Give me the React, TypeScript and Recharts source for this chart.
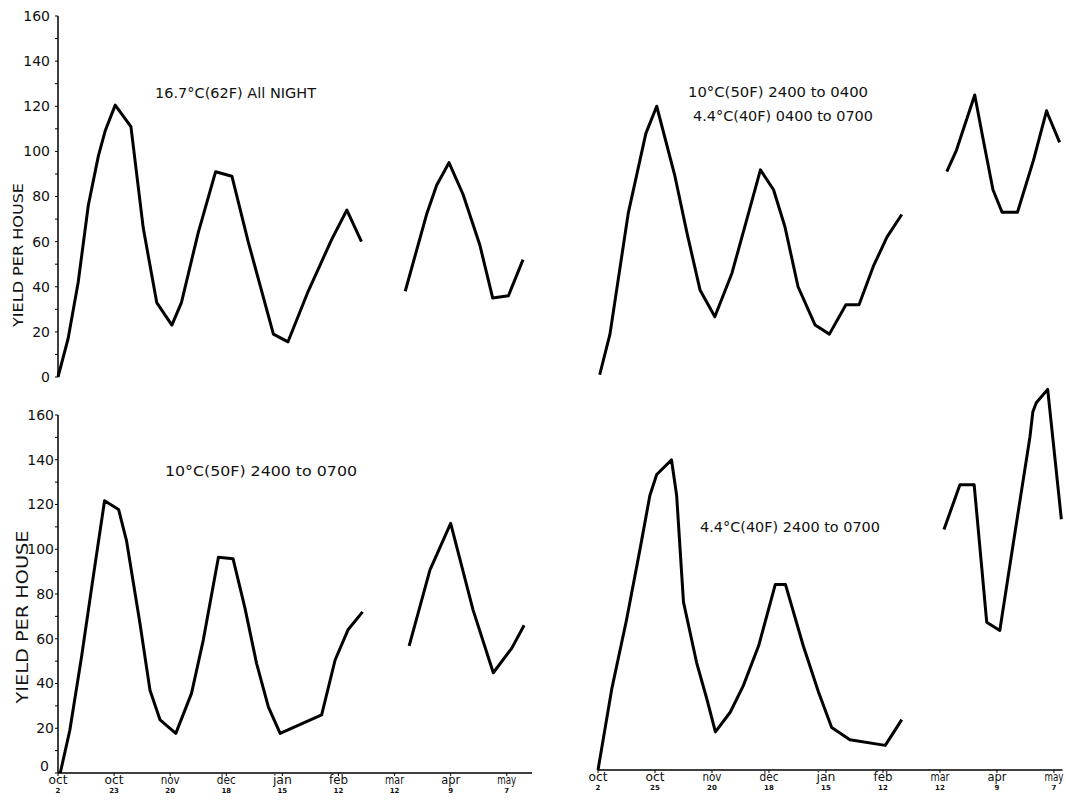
import React from 'react';
import { LineChart, Line, XAxis, YAxis } from 'recharts';

// Axis labels
const monthLabels = ['oct', 'oct', 'nov', 'dec', 'jan', 'feb', 'mar', 'apr', 'may'];
const dayLabelsLeft = ['2', '23', '20', '18', '15', '12', '12', '9', '7'];
const dayLabelsRight = ['2', '25', '20', '18', '15', '12', '12', '9', '7'];
const xTicks = [0, 1, 2, 3, 4, 5, 6, 7, 8];
const yTicks = [0, 10, 20, 30, 40, 50, 60, 70, 80, 90, 100, 110, 120, 130, 140, 150, 160];

// Panel titles
const titleTopLeft = '16.7°C(62F) All NIGHT';
const titleTopRight1 = '10°C(50F)  2400 to 0400';
const titleTopRight2 = '4.4°C(40F) 0400 to 0700';
const titleBottomLeft = '10°C(50F)  2400 to 0700';
const titleBottomRight = '4.4°C(40F) 2400 to 0700';
const yTitle = 'YIELD PER HOUSE';

// x positions are in units of the date ticks (0 = oct 2 ... 8 = may 7)
// Top-left: 16.7°C all night
const tlSeg1X = [0, 0.18, 0.36, 0.54, 0.72, 0.84, 1.02, 1.3, 1.52, 1.76, 2.03, 2.2, 2.5, 2.81, 3.1, 3.39, 3.84, 4.1, 4.46, 4.88, 5.15, 5.41];
const tlSeg1Y = [0, 17, 42, 76, 98, 109, 120.5, 111, 66, 33, 23, 33, 64, 91, 89, 60, 19, 15.6, 38, 61, 74, 60];
const tlSeg2X = [6.19, 6.57, 6.75, 6.97, 7.22, 7.52, 7.75, 8.03, 8.29];
const tlSeg2Y = [38, 72, 85, 95, 81, 58.5, 35, 36, 52];

// Top-right: 10°C 2400-0400, 4.4°C 0400-0700
const trSeg1X = [0.03, 0.21, 0.53, 0.84, 1.03, 1.35, 1.56, 1.79, 2.05, 2.35, 2.64, 2.85, 3.08, 3.28, 3.51, 3.81, 4.06, 4.35, 4.58, 4.83, 5.07, 5.33];
const trSeg1Y = [1, 19, 72.5, 108, 120, 89, 64, 38.6, 26.7, 46, 72.5, 91.8, 83, 66.6, 40, 23, 19, 32, 32, 49, 62, 72];
const trSeg2X = [6.12, 6.29, 6.61, 6.76, 6.93, 7.09, 7.36, 7.64, 7.87, 7.9, 8.1];
const trSeg2Y = [91, 100.6, 125, 105, 83, 73, 73, 96, 118, 116, 104];

// Bottom-left: 10°C 2400-0700
const blSeg1X = [0.04, 0.21, 0.42, 0.63, 0.83, 1.08, 1.22, 1.46, 1.64, 1.82, 2.1, 2.38, 2.59, 2.86, 3.12, 3.33, 3.54, 3.75, 3.96, 4.7, 4.94, 5.17, 5.43];
const blSeg1Y = [0, 19, 52, 88, 121.7, 117.8, 104, 67, 37, 23.7, 17.7, 35.6, 59.4, 96.4, 95.8, 74, 49, 29.6, 17.7, 26, 50.5, 64, 72];
const blSeg2X = [6.26, 6.63, 7.0, 7.4, 7.76, 8.09, 8.31];
const blSeg2Y = [56.8, 90.7, 111.6, 72.8, 44.8, 55.8, 66];

// Bottom-right: 4.4°C 2400-0700
const brSeg1X = [0, 0.24, 0.5, 0.74, 0.91, 1.03, 1.29, 1.38, 1.5, 1.73, 1.91, 2.06, 2.32, 2.55, 2.82, 3.11, 3.29, 3.6, 3.87, 4.1, 4.42, 5.04, 5.33];
const brSeg1Y = [0, 36, 67, 99, 122.6, 132, 138.5, 122.6, 75, 48, 31.7, 17, 25.8, 37.7, 55.6, 82.8, 82.8, 55.6, 34.7, 19, 13.5, 11, 22.5];
const brSeg2X = [6.07, 6.35, 6.6, 6.73, 6.82, 7.05, 7.29, 7.58, 7.63, 7.69, 7.89, 8.13];
const brSeg2Y = [107.4, 127.4, 127.4, 91.3, 66, 62.3, 101.8, 149, 160, 164, 170, 112];

const pts = (xs: number[], ys: number[]) => xs.map((x, i) => ({ x, y: ys[i] }));

const FONT = 'DejaVu Sans';
const INK = '#111';

const makeMonthTick = (days: string[]) => (props: any) => {
  const { x, y, payload } = props;
  const i = payload.value as number;
  return (
    <g transform={`translate(${x},${y})`}>
      <text
        x={0}
        y={8}
        textAnchor="middle"
        fontSize={13}
        fontFamily={FONT}
        fill={INK}
        textLength={19}
        lengthAdjust="spacingAndGlyphs"
      >
        {monthLabels[i]}
      </text>
      <text x={0} y={17} textAnchor="middle" fontSize={7} fontWeight="bold" fontFamily={FONT} fill={INK}>
        {days[i]}
      </text>
    </g>
  );
};

const makeYTick = (dx: number, zeroLift: number, zeroDx: number) => (props: any) => {
  const { x, y, payload } = props;
  if (payload.value % 20 !== 0) return <g />;
  const isZero = payload.value === 0;
  const lift = isZero ? zeroLift : 0;
  const shift = isZero ? zeroDx : dx;
  return (
    <text x={x + shift} y={y - lift} dy="0.35em" textAnchor="end" fontSize={14} fontFamily={FONT} fill={INK}>
      {payload.value}
    </text>
  );
};

const lineProps = {
  type: 'linear' as const,
  dataKey: 'y',
  stroke: '#000',
  strokeWidth: 3,
  dot: false,
  activeDot: false,
  isAnimationActive: false,
  strokeLinejoin: 'round' as const,
};

const axisStroke = { stroke: '#000', strokeWidth: 1.5 };

export default function App() {
  return (
    <div style={{ position: 'absolute', left: 0, top: 0, width: 1066, height: 800, background: '#fff', overflow: 'hidden' }}>
      {/* Top-left */}
      <div style={{ position: 'absolute', left: 0, top: 0 }}>
        <LineChart width={540} height={400} margin={{ top: 16, right: 8, bottom: 23, left: 0 }}>
          <XAxis dataKey="x" type="number" domain={[0, 8.45]} ticks={xTicks} hide />
          <YAxis
            type="number"
            domain={[0, 160]}
            ticks={yTicks}
            width={58}
            tickSize={3}
            tickMargin={2}
            axisLine={axisStroke}
            tickLine={{ stroke: '#000' }}
            tick={makeYTick(-3, 0, -3)}
            interval={0}
          />
          <Line {...lineProps} data={pts(tlSeg1X, tlSeg1Y)} />
          <Line {...lineProps} data={pts(tlSeg2X, tlSeg2Y)} />
        </LineChart>
      </div>

      {/* Top-right */}
      <div style={{ position: 'absolute', left: 540, top: 0 }}>
        <LineChart width={526} height={400} margin={{ top: 16, right: 3.5, bottom: 23, left: 58 }}>
          <XAxis dataKey="x" type="number" domain={[0, 8.15]} ticks={xTicks} hide />
          <YAxis type="number" domain={[0, 160]} hide />
          <Line {...lineProps} data={pts(trSeg1X, trSeg1Y)} />
          <Line {...lineProps} data={pts(trSeg2X, trSeg2Y)} />
        </LineChart>
      </div>

      {/* Bottom-left */}
      <div style={{ position: 'absolute', left: 0, top: 400 }}>
        <LineChart width={540} height={400} margin={{ top: 15, right: 8, bottom: 0, left: 0 }}>
          <XAxis
            dataKey="x"
            type="number"
            domain={[0, 8.45]}
            ticks={xTicks}
            height={27}
            tickSize={3}
            tickMargin={0}
            axisLine={axisStroke}
            tickLine={{ stroke: '#000' }}
            tick={makeMonthTick(dayLabelsLeft)}
            interval={0}
          />
          <YAxis
            type="number"
            domain={[0, 160]}
            ticks={yTicks}
            width={58}
            tickSize={3}
            tickMargin={2}
            axisLine={axisStroke}
            tickLine={{ stroke: '#000' }}
            tick={makeYTick(1, 7, -4)}
            interval={0}
          />
          <Line {...lineProps} data={pts(blSeg1X, blSeg1Y)} />
          <Line {...lineProps} data={pts(blSeg2X, blSeg2Y)} />
        </LineChart>
      </div>

      {/* Bottom-right */}
      <div style={{ position: 'absolute', left: 540, top: 350 }}>
        <LineChart width={526} height={450} margin={{ top: 17, right: 3.5, bottom: 0, left: 58 }}>
          <XAxis
            dataKey="x"
            type="number"
            domain={[0, 8.15]}
            ticks={xTicks}
            height={30}
            tickSize={3}
            tickMargin={0}
            axisLine={axisStroke}
            tickLine={{ stroke: '#000' }}
            tick={makeMonthTick(dayLabelsRight)}
            interval={0}
          />
          <YAxis type="number" domain={[0, 180]} hide />
          <Line {...lineProps} data={pts(brSeg1X, brSeg1Y)} />
          <Line {...lineProps} data={pts(brSeg2X, brSeg2Y)} />
        </LineChart>
      </div>

      {/* Annotations */}
      <svg width={1066} height={800} style={{ position: 'absolute', left: 0, top: 0, pointerEvents: 'none' }}>
        <g fontFamily={FONT} fill={INK} fontSize={14}>
          <text x={155} y={98} textLength={161} lengthAdjust="spacingAndGlyphs">{titleTopLeft}</text>
          <text x={688} y={97} textLength={180} lengthAdjust="spacingAndGlyphs">{titleTopRight1}</text>
          <text x={693} y={121} textLength={180} lengthAdjust="spacingAndGlyphs">{titleTopRight2}</text>
          <text x={165} y={476} textLength={192} lengthAdjust="spacingAndGlyphs">{titleBottomLeft}</text>
          <text x={700} y={532} textLength={180} lengthAdjust="spacingAndGlyphs">{titleBottomRight}</text>
          <text
            transform="translate(23,255) rotate(-90)"
            textAnchor="middle"
            fontSize={14}
            textLength={144}
            lengthAdjust="spacingAndGlyphs"
          >
            {yTitle}
          </text>
          <text
            transform="translate(28,617) rotate(-90)"
            textAnchor="middle"
            fontSize={15}
            textLength={173}
            lengthAdjust="spacingAndGlyphs"
          >
            {yTitle}
          </text>
        </g>
      </svg>
    </div>
  );
}
